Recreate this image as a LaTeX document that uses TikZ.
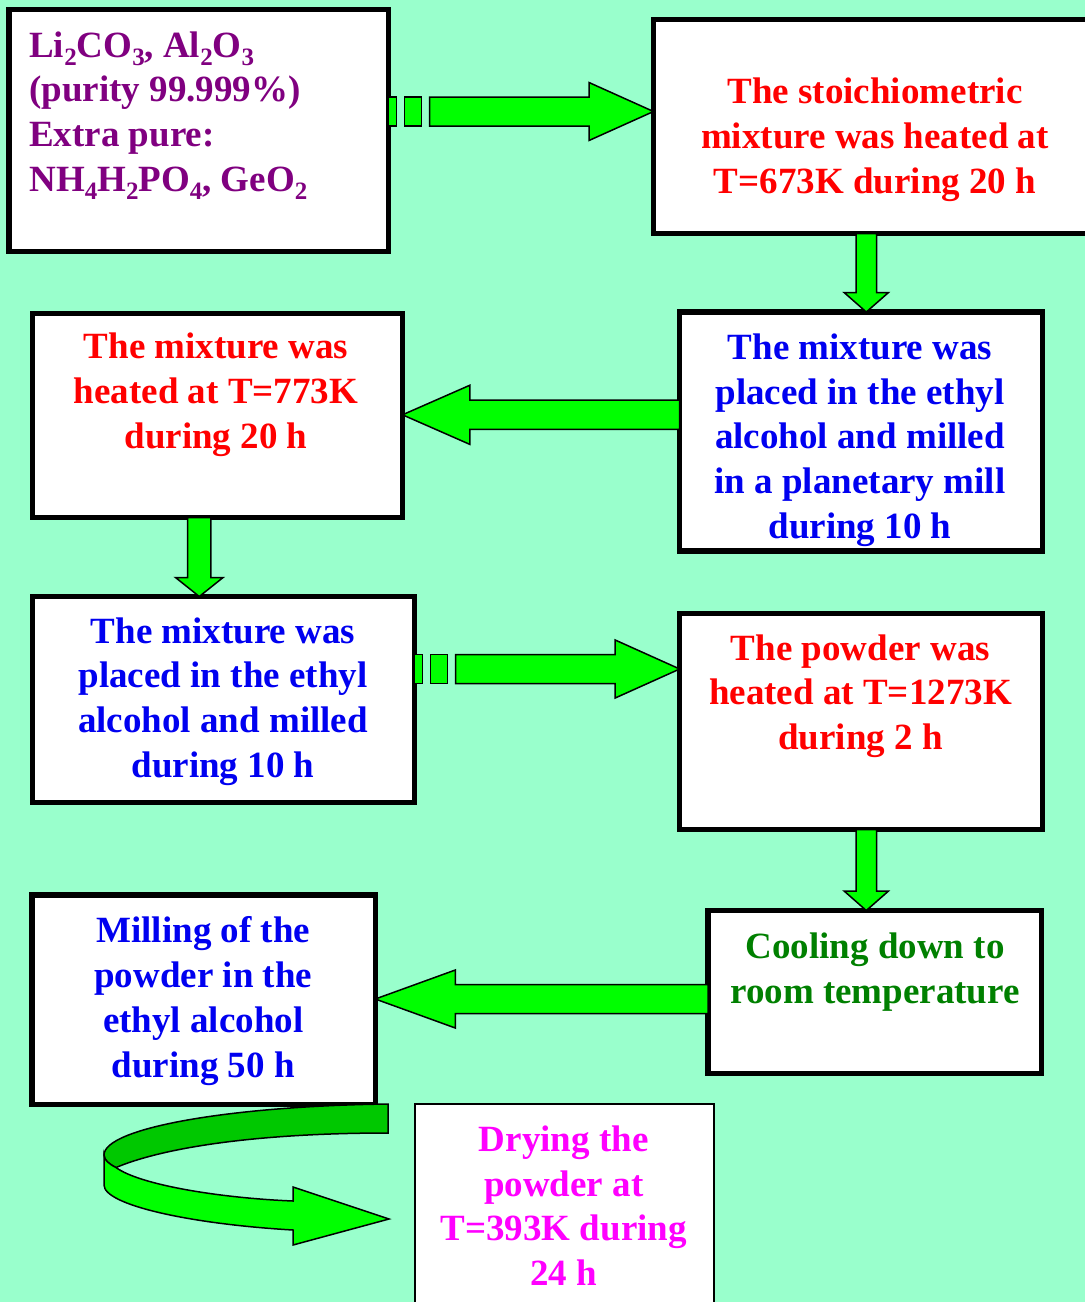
\documentclass[tikz,border=0pt]{standalone}
\usepackage{fontspec}
\setmainfont{Liberation Serif}
\usetikzlibrary{calc}

\definecolor{bgmint}{HTML}{99FFCC}
\definecolor{arrowgreen}{HTML}{00FF00}
\definecolor{ribbondark}{HTML}{00C800}
\definecolor{txtpurple}{HTML}{800080}
\definecolor{txtred}{HTML}{FF0000}
\definecolor{txtblue}{HTML}{0000F0}
\definecolor{txtgreen}{HTML}{008000}
\definecolor{txtmagenta}{HTML}{FF00FF}

% chemical subscript
\newcommand\chsub[1]{\raisebox{-8pt}{\fontsize{25}{25}\selectfont #1}}
% fixed height for the first line of a label
\newcommand\lead{\rule{0pt}{26pt}}

% right arrow with two broken stripes at its tail: #1 tail, #2 tip
\newcommand\stripedR[2]{%
  \filldraw[blockarrow] ($(#1)+(0,-14.5)$) rectangle ($(#1)+(8,14.5)$);
  \filldraw[blockarrow] ($(#1)+(16,-14.5)$) rectangle ($(#1)+(33,14.5)$);
  \filldraw[blockarrow] ($(#1)+(41,-14.5)$) -- ($(#2)+(-64.5,-14.5)$)
    -- ($(#2)+(-64.5,-29)$) -- (#2) -- ($(#2)+(-64.5,29)$)
    -- ($(#2)+(-64.5,14.5)$) -- ($(#1)+(41,14.5)$) -- cycle;}
% left block arrow: #1 tail, #2 tip, #3 head length, #4 head half width, #5 shaft half width
\newcommand\blockL[5]{%
  \filldraw[blockarrow] ($(#1)+(0,-#5)$) -- ($(#2)+(#3,-#5)$) -- ($(#2)+(#3,-#4)$)
    -- (#2) -- ($(#2)+(#3,#4)$) -- ($(#2)+(#3,#5)$) -- ($(#1)+(0,#5)$) -- cycle;}
% down block arrow: #1 tail, #2 tip, #3 head length, #4 head half width, #5 shaft half width
\newcommand\blockD[5]{%
  \filldraw[blockarrow] ($(#1)+(-#5,0)$) -- ($(#2)+(-#5,-#3)$) -- ($(#2)+(-#4,-#3)$)
    -- (#2) -- ($(#2)+(#4,-#3)$) -- ($(#2)+(#5,-#3)$) -- ($(#1)+(#5,0)$) -- cycle;}

\tikzset{
  box/.style={draw=black, line width=5.5pt, fill=white, inner sep=0pt, outer sep=0pt},
  thinbox/.style={box, line width=2pt},
  label/.style={font=\fontsize{37}{44.8}\selectfont\bfseries, inner sep=0pt,
                outer sep=0pt, align=center, anchor=north},
  blockarrow/.style={draw=black, line width=1.5pt, fill=arrowgreen, line join=miter},
}

\begin{document}
\begin{tikzpicture}[x=1pt, y=-1pt]
  \fill[bgmint] (0,0) rectangle (1085,1302);
  \clip (0,0) rectangle (1085,1302);

  % process boxes
  \node[box, minimum width=379.7pt, minimum height=242pt] (b1) at (198.85,130.5) {};
  \node[box, minimum width=436.5pt, minimum height=214pt] (b2) at (871.75,126.5) {};
  \node[box, minimum width=370pt,   minimum height=204pt] (b3) at (217.5,415.5) {};
  \node[box, minimum width=362.8pt, minimum height=239pt] (b4) at (861.1,431.5) {};
  \node[box, minimum width=382pt,   minimum height=206pt] (b5) at (223.5,699.5) {};
  \node[box, minimum width=362.8pt, minimum height=216pt] (b6) at (861.1,721.5) {};
  \node[box, minimum width=343.3pt, minimum height=209.5pt] (b7) at (203.65,999.75) {};
  \node[box, minimum width=333.5pt, minimum height=163pt] (b8) at (874.75,992) {};
  \node[thinbox, minimum width=298.5pt, minimum height=206pt] (b9) at (564.25,1207) {};

  % arrow end points
  \coordinate (a1s) at (b1.east |- 0,111.5);
  \coordinate (a1e) at (b2.west |- 0,111.5);
  \coordinate (a2s) at (866.3,0 |- b2.south);
  \coordinate (a2e) at (866.3,0 |- b4.north);
  \coordinate (a3s) at (b4.west |- 0,414.8);
  \coordinate (a3e) at (b3.east |- 0,414.8);
  \coordinate (a4s) at (199.3,0 |- b3.south);
  \coordinate (a4e) at (199.3,0 |- b5.north);
  \coordinate (a5s) at (b5.east |- 0,669);
  \coordinate (a5e) at (b6.west |- 0,669);
  \coordinate (a6s) at (866.3,0 |- b6.south);
  \coordinate (a6e) at (866.3,0 |- b8.north);
  \coordinate (a7s) at (b8.west |- 0,999);
  \coordinate (a7e) at (b7.east |- 0,999);

  % connectors
  \stripedR{a1s}{a1e}
  \blockD{a2s}{a2e}{19.5}{22.2}{10.3}
  \blockL{a3s}{a3e}{67.4}{29.6}{14.6}
  \blockD{a4s}{a4e}{19}{23.8}{11.6}
  \stripedR{a5s}{a5e}
  \blockD{a6s}{a6e}{19.5}{22.2}{10.3}
  \blockL{a7s}{a7e}{80}{29}{14.5}

  % curved ribbon arrow towards the drying step
  \coordinate (r0) at (388,1104);
  \coordinate (r1) at (389,1219);
  \filldraw[blockarrow, fill=ribbondark] (r0) .. controls (230,1106) and (104,1128) .. (104,1155)
    .. controls (104,1160) and (109,1164) .. (116,1167.5)
    .. controls (170,1145) and (270,1133) .. (388,1133) -- cycle;
  \filldraw[blockarrow] (104,1155) -- (104,1185)
    .. controls (104,1205) and (190,1224) .. (293,1230) -- (293,1245) -- (r1)
    -- (293,1187) -- (293,1201)
    .. controls (220,1198) and (140,1185) .. (116,1167.5)
    .. controls (109,1164) and (104,1160) .. (104,1155) -- cycle;

  % box texts
  \node[label, align=left, anchor=north west, text=txtpurple] (t1) at (29.3,31)
    {\lead Li\chsub{2}CO\chsub{3}, Al\chsub{2}O\chsub{3}\\(purity 99.999\%)\\Extra pure:\\NH\chsub{4}H\chsub{2}PO\chsub{4}, GeO\chsub{2}};
  \node[label, text=txtred] (t2) at (875,77.7)
    {\lead The stoichiometric\\mixture was heated at\\T=673K during 20 h};
  \node[label, text=txtred] (t3) at (216,332.5)
    {\lead The mixture was\\heated at T=773K\\during 20 h};
  \node[label, text=txtblue] (t4) at (860,333.3)
    {\lead The mixture was\\placed in the ethyl\\alcohol and milled\\in a planetary mill\\during 10 h};
  \node[label, text=txtblue] (t5) at (223,617)
    {\lead The mixture was\\placed in the ethyl\\alcohol and milled\\during 10 h};
  \node[label, text=txtred] (t6) at (860.5,634)
    {\lead The powder was\\heated at T=1273K\\during 2 h};
  \node[label, text=txtblue] (t7) at (203.3,916.7)
    {\lead Milling of the\\powder in the\\ethyl alcohol\\during 50 h};
  \node[label, text=txtgreen] (t8) at (875,932.7)
    {\lead Cooling down to\\room temperature};
  \node[label, text=txtmagenta] (t9) at (563.7,1125.3)
    {\lead Drying the\\powder at\\T=393K during\\24 h};
\end{tikzpicture}
\end{document}
